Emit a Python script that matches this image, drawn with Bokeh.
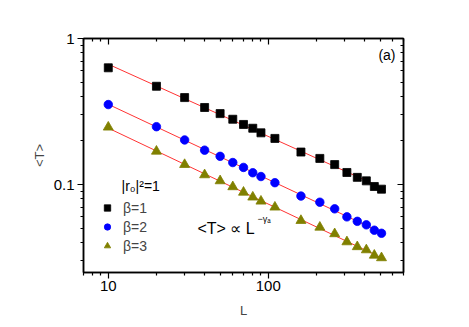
import numpy as np
from bokeh.plotting import figure
from bokeh.models import (LogAxis, FixedTicker, Label, Legend, LegendItem,
                          Range1d)
from bokeh.embed import file_html
from bokeh.resources import INLINE

# ---- data ----
L = [10, 20, 30, 40, 50, 60, 70, 80, 90, 110, 160, 210, 260, 310, 360, 410, 460, 510]
T_beta1 = [0.630, 0.471, 0.394, 0.337, 0.306, 0.280, 0.258, 0.243, 0.226, 0.207,
           0.167, 0.151, 0.137, 0.121, 0.112, 0.106, 0.097, 0.093]
T_beta2 = [0.353, 0.249, 0.202, 0.172, 0.156, 0.1415, 0.131, 0.1205, 0.1135, 0.103,
           0.0834, 0.0757, 0.0682, 0.0601, 0.056, 0.053, 0.0487, 0.0464]
T_beta3 = [0.247, 0.169, 0.137, 0.1165, 0.106, 0.0965, 0.0885, 0.082, 0.0769, 0.070,
           0.0567, 0.051, 0.046, 0.0405, 0.0375, 0.0357, 0.0328, 0.0315]
series_labels = ["β=1", "β=2", "β=3"]
x_tick_labels = {10: "10", 100: "100"}
y_tick_labels = {0.1: "0.1", 1: "1"}

FONT = "Liberation Sans"

p = figure(width=469, height=327, x_axis_type="log", y_axis_type="log",
           x_range=Range1d(7, 700), y_range=Range1d(0.025, 1),
           output_backend="svg", toolbar_location=None,
           min_border_left=83, min_border_right=66, min_border_top=38,
           min_border_bottom=55)
p.xgrid.visible = False
p.ygrid.visible = False
p.outline_line_color = "black"
p.outline_line_width = 1.5
p.background_fill_color = "white"
p.border_fill_color = "white"

x_minor = [m * 10 ** e for e in (0, 1, 2) for m in range(2, 10)]
y_minor = [m * 10 ** e for e in (-2, -1) for m in range(2, 10)]

def style_axis(ax, ticks, minor, labels, inside):
    ax.ticker = FixedTicker(ticks=ticks, minor_ticks=minor)
    ax.major_label_overrides = labels
    ax.axis_line_width = 1.5
    ax.major_tick_line_width = 1.2
    ax.minor_tick_line_width = 1.2
    if inside:
        ax.major_tick_in, ax.major_tick_out = 6, 0
        ax.minor_tick_in, ax.minor_tick_out = 3, 0
    else:
        ax.major_tick_in, ax.major_tick_out = 0, 6
        ax.minor_tick_in, ax.minor_tick_out = 0, 3
    ax.major_label_text_font = FONT
    ax.major_label_text_font_size = "15px"
    ax.major_label_text_color = "black"
    ax.axis_label_text_font = FONT
    ax.axis_label_text_font_size = "13px"
    ax.axis_label_text_font_style = "normal"

xa = p.xaxis[0]
ya = p.yaxis[0]
style_axis(xa, [10, 100], x_minor, x_tick_labels, False)
style_axis(ya, [0.1, 1], y_minor, y_tick_labels, False)
xa.axis_label = "L"
ya.axis_label = "<T>"
xa.major_label_standoff = 2
ya.major_label_standoff = 3
xa.axis_label_standoff = 9
ya.axis_label_standoff = 4

top = LogAxis()
style_axis(top, [10, 100], x_minor, {10: "", 100: ""}, True)
p.add_layout(top, "above")
right = LogAxis()
style_axis(right, [0.1, 1], y_minor, {0.1: "", 1: ""}, True)
p.add_layout(right, "right")

# fitted power laws (least squares in log-log space)
lx = np.log10(L)
styles = [(T_beta1, "square", "black", 8),
          (T_beta2, "circle", "#0000FF", 8.5),
          (T_beta3, "triangle", "#808000", 10)]
for ys, marker, color, size in styles:
    coef = np.polyfit(lx, np.log10(ys), 1)
    fit = 10 ** np.polyval(coef, lx)
    p.line(L, list(fit), line_color="#FF3333", line_width=1)

renderers = []
for ys, marker, color, size in styles:
    r = p.scatter(L, ys, marker=marker, size=size, fill_color=color,
                  line_color=color, line_width=0.8)
    renderers.append(r)

legend = Legend(items=[LegendItem(label=lab, renderers=[r])
                       for lab, r in zip(series_labels, renderers)],
                location=(16, 18), padding=0, margin=0, spacing=2,
                glyph_width=16, glyph_height=17, label_height=17,
                label_standoff=8, border_line_color=None,
                background_fill_alpha=0,
                label_text_font=FONT, label_text_font_size="14px")
p.add_layout(legend)

def lab(text, x, y, size, align="left", baseline="middle"):
    p.add_layout(Label(x=x, y=y, x_units="screen", y_units="screen", text=text,
                       text_font=FONT, text_font_size=size, text_align=align,
                       text_baseline=baseline, text_color="black"))

lab("(a)", 312, 218, "14px", align="right")
lab("|r₀|²=1", 38, 87, "14px")
lab("<T> ∝ L", 114, 44, "16px")
lab("−γₐ", 174, 54, "9px")

open("out.html", "w").write(file_html(p, INLINE))
